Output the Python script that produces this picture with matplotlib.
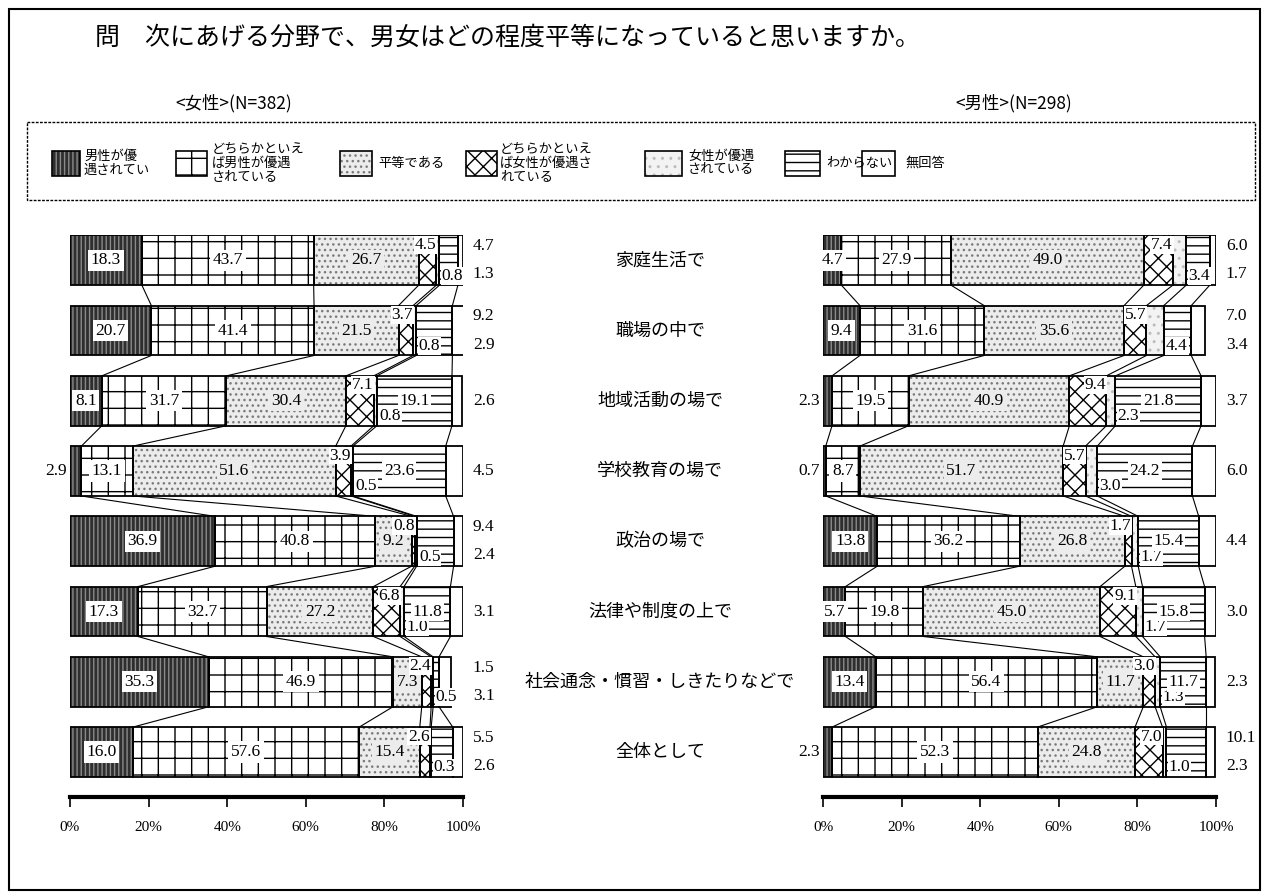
import numpy as np
import matplotlib
matplotlib.use("Agg")
import matplotlib.pyplot as plt
from matplotlib.patches import Rectangle
from matplotlib.transforms import blended_transform_factory

plt.rcParams['font.family'] = ['Noto Sans CJK JP', 'DejaVu Sans']
plt.rcParams['hatch.linewidth'] = 1.0

# ---- data ----
title = "問　次にあげる分野で、男女はどの程度平等になっていると思いますか。"
women_title = "<女性>(N=382)"
men_title = "<男性>(N=298)"

fields = ["家庭生活で", "職場の中で", "地域活動の場で", "学校教育の場で", "政治の場で",
          "法律や制度の上で", "社会通念・慣習・しきたりなどで", "全体として"]

answers = ["男性が優\n遇されてい", "どちらかといえ\nば男性が優遇\nされている", "平等である",
           "どちらかといえ\nば女性が優遇さ\nれている", "女性が優遇\nされている", "わからない", "無回答"]

women = [
    [18.3, 43.7, 26.7, 4.5, 0.8, 4.7, 1.3],
    [20.7, 41.4, 21.5, 3.7, 0.8, 9.2, 2.9],
    [8.1, 31.7, 30.4, 7.1, 0.8, 19.1, 2.6],
    [2.9, 13.1, 51.6, 3.9, 0.5, 23.6, 4.5],
    [36.9, 40.8, 9.2, 0.8, 0.5, 9.4, 2.4],
    [17.3, 32.7, 27.2, 6.8, 1.0, 11.8, 3.1],
    [35.3, 46.9, 7.3, 2.4, 0.5, 1.5, 3.1],
    [16.0, 57.6, 15.4, 2.6, 0.3, 5.5, 2.6],
]

men = [
    [4.7, 27.9, 49.0, 7.4, 3.4, 6.0, 1.7],
    [9.4, 31.6, 35.6, 5.7, 4.4, 7.0, 3.4],
    [2.3, 19.5, 40.9, 9.4, 2.3, 21.8, 3.7],
    [0.7, 8.7, 51.7, 5.7, 3.0, 24.2, 6.0],
    [13.8, 36.2, 26.8, 1.7, 1.7, 15.4, 4.4],
    [5.7, 19.8, 45.0, 9.1, 1.7, 15.8, 3.0],
    [13.4, 56.4, 11.7, 3.0, 1.3, 11.7, 2.3],
    [2.3, 52.3, 24.8, 7.0, 1.0, 10.1, 2.3],
]

ticks = [0, 20, 40, 60, 80, 100]

# ---- styles ----
faces = ['#2e2e2e', 'white', '#ececec', 'white', '#f3f3f3', 'white', 'white']
hatches = ['||||', '+', '...', 'xx', '..', '--', None]
hatch_cols = ['#8a8a8a', 'black', '#7a7a7a', 'black', '#bdbdbd', 'black', 'black']
num_font = 'Liberation Serif'
H = 0.71

fig = plt.figure(figsize=(12.68, 8.93), dpi=100)

# background layer in pixel coords
bg = fig.add_axes([0, 0, 1, 1], zorder=-1)
bg.set_xlim(0, 1268)
bg.set_ylim(893, 0)
bg.axis('off')
bg.add_patch(Rectangle((9, 9), 1251, 881, fill=False, edgecolor='black', lw=1.5))
bg.text(95, 38, title, fontsize=18, va='center', ha='left')
bg.text(175, 103, women_title, fontsize=12.5, va='center', ha='left')
bg.text(955, 103, men_title, fontsize=12.5, va='center', ha='left')
bg.add_patch(Rectangle((27, 122), 1228, 78, fill=False, edgecolor='black', lw=1,
                       linestyle=(0, (2, 1))))

sw_x = [52, 176, 340, 466, 645, 785, 862]
sw_w = [28, 31, 32, 31, 37, 35, 33]
tx_x = [84, 212, 378, 500, 688, 826, 905]
for k in range(7):
    bg.add_patch(Rectangle((sw_x[k], 151), sw_w[k], 25, facecolor=faces[k],
                           hatch=hatches[k], edgecolor=hatch_cols[k], lw=0))
    bg.add_patch(Rectangle((sw_x[k], 151), sw_w[k], 25, fill=False,
                           edgecolor='black', lw=1.2))
    bg.text(tx_x[k], 163, answers[k], fontsize=9.5, va='center', ha='left', linespacing=1.1)


def draw_panel(ax, data):
    n = len(data)
    # connector lines between bars
    for i in range(n - 1):
        c1 = np.cumsum(data[i])
        c2 = np.cumsum(data[i + 1])
        for k in range(6):
            ax.plot([c1[k], c2[k]], [i + H / 2, i + 1 - H / 2], color='black', lw=0.8, zorder=1)

    for i, row in enumerate(data):
        left = 0
        cum = np.cumsum(row)
        for k, v in enumerate(row):
            ax.barh(i, v, left=left, height=H, color=faces[k], hatch=hatches[k],
                    edgecolor=hatch_cols[k], linewidth=0, zorder=2)
            ax.barh(i, v, left=left, height=H, fill=False, edgecolor='black',
                    linewidth=1.3, zorder=3)
            left += v

        lbl = dict(fontsize=12.5, family=num_font, va='center', zorder=5)
        # first three segments
        for k in range(3):
            v = row[k]
            x0 = cum[k] - v
            if k == 0 and v < 4:
                ax.text(-0.8, i, f"{v:.1f}", ha='right', **lbl)
            else:
                fc = 'white' if k == 0 else faces[k]
                ax.text(x0 + v / 2, i, f"{v:.1f}", ha='center',
                        bbox=dict(boxstyle='square,pad=0.15', fc=fc, ec='none'), **lbl)
        # small segments
        ax.text(cum[3], i - 0.22, f"{row[3]:.1f}", ha='right',
                bbox=dict(boxstyle='square,pad=0.05', fc='white', ec='none'), **lbl)
        ax.text(cum[4] + 0.6, i + 0.22, f"{row[4]:.1f}", ha='left',
                bbox=dict(boxstyle='square,pad=0.05', fc='white', ec='none'), **lbl)
        # わからない / 無回答
        if row[5] >= 11:
            ax.text(cum[4] + row[5] / 2, i, f"{row[5]:.1f}", ha='center',
                    bbox=dict(boxstyle='square,pad=0.1', fc='white', ec='none'), **lbl)
            ax.text(102.5, i, f"{row[6]:.1f}", ha='left', **lbl)
        else:
            ax.text(102.5, i - 0.2, f"{row[5]:.1f}", ha='left', **lbl)
            ax.text(102.5, i + 0.2, f"{row[6]:.1f}", ha='left', **lbl)

    ax.set_xlim(0, 100)
    ax.set_ylim(n - 1 + 0.64, -0.36)
    ax.set_yticks([])
    ax.set_xticks(ticks)
    ax.set_xticklabels([f"{t}%" for t in ticks], family=num_font, fontsize=11)
    ax.tick_params(axis='x', length=7, width=1.2, pad=10)
    for s in ['left', 'right', 'top']:
        ax.spines[s].set_visible(False)
    ax.spines['bottom'].set_linewidth(3)
    ax.patch.set_alpha(0)


ax_w = fig.add_axes([70 / 1268, 1 - 797 / 893, 393 / 1268, 562 / 893])
ax_m = fig.add_axes([823 / 1268, 1 - 797 / 893, 393 / 1268, 562 / 893])
draw_panel(ax_w, women)
draw_panel(ax_m, men)

tr = blended_transform_factory(fig.transFigure, ax_w.transData)
for i, f in enumerate(fields):
    ax_w.text(660 / 1268, i, f, transform=tr, ha='center', va='center', fontsize=13,
              clip_on=False)

fig.savefig("out.png", dpi=100)
